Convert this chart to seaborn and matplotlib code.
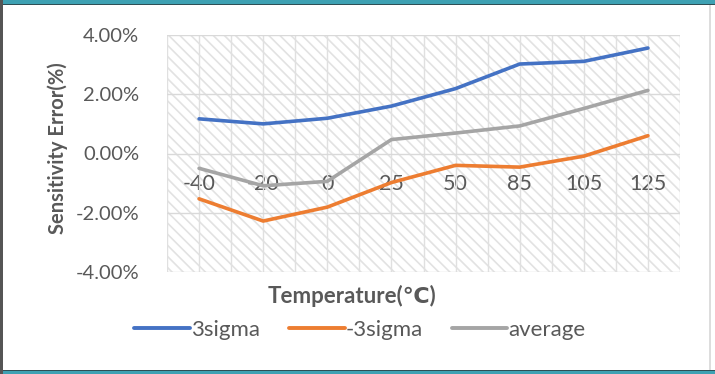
import matplotlib
matplotlib.use("Agg")
import matplotlib.pyplot as plt
from matplotlib.patches import Rectangle
from matplotlib.lines import Line2D
import seaborn as sns
import pandas as pd
import numpy as np

temps = ["-40", "-20", "0", "25", "50", "85", "105", "125"]
sigma_pos = [1.17, 1.00, 1.19, 1.60, 2.19, 3.02, 3.11, 3.56]
sigma_neg = [-1.53, -2.28, -1.81, -0.98, -0.40, -0.46, -0.09, 0.60]
average = [-0.50, -1.09, -0.94, 0.47, 0.69, 0.93, 1.52, 2.13]
series_names = ["3sigma", "-3sigma", "average"]
colors = ["#4472C4", "#ED7D31", "#A5A5A5"]
yticks = [-4, -2, 0, 2, 4]

df = pd.DataFrame({
    "Temperature": temps * 3,
    "value": sigma_pos + sigma_neg + average,
    "series": [s for s in series_names for _ in temps],
})

sns.set_theme(style="white")
plt.rcParams["font.family"] = ["Lato", "DejaVu Sans"]
plt.rcParams["hatch.linewidth"] = 1.2

fig = plt.figure(figsize=(7.15, 3.74), dpi=100)
fig.patch.set_facecolor("white")
ax = fig.add_axes([167/715, 1-272/374, (680-167)/715, (272-35)/374])
ax.set_facecolor("white")

# hatched plot area
hp = Rectangle((0, 0), 1, 1, transform=ax.transAxes, facecolor="white",
               edgecolor="#e2e2e2", hatch="\\\\\\", lw=0, zorder=0)
ax.add_patch(hp)

sns.lineplot(data=df, x="Temperature", y="value", hue="series",
             palette=dict(zip(series_names, colors)), sort=False,
             linewidth=2.6, ax=ax, legend=False, zorder=3)

ax.set_xlim(-0.5, len(temps) - 0.5)
ax.set_ylim(-4, 4)
ax.set_yticks(yticks)
ax.set_yticklabels([f"{v:.2f}%" for v in yticks])
for x in np.arange(-0.5, len(temps), 0.5):
    ax.axvline(x, color="#e0e0e0", lw=1.0, zorder=1)
for y in yticks:
    ax.axhline(y, color="#d9d9d9", lw=1.0, zorder=1)

for sp in ax.spines.values():
    sp.set_visible(False)
ax.spines["bottom"].set_position(("data", 0))
ax.tick_params(axis="x", length=0, pad=15, labelsize=15.5, labelcolor="#595959")
ax.tick_params(axis="y", length=0, pad=20, labelsize=14.5, labelcolor="#595959")
ax.set_xlabel("")
ax.set_ylabel("")

fig.text(58/715, 1-148/374, "Sensitivity Error(%)", rotation=90, ha="center", va="center",
         fontsize=14.5, fontweight="bold", color="#595959")
fig.text(352/715, 1-296/374, "Temperature(℃)", ha="center", va="center",
         fontsize=16, fontweight="bold", color="#595959",
         family=["Lato", "DejaVu Sans"])

handles = [Line2D([], [], color=c, lw=2.8) for c in colors]
fig.legend(handles, series_names, loc="center", bbox_to_anchor=(360/715, 1-330/374),
           ncol=3, frameon=False, fontsize=16, handlelength=2.5, handletextpad=0.05,
           columnspacing=1.3, labelcolor="#595959")

# outer frame
fig.patches.append(Rectangle((0, 1-4/374), 1, 4/374, transform=fig.transFigure,
                             facecolor="#3ea1b3", edgecolor="none"))
fig.patches.append(Rectangle((0, 1-5/374), 1, 1.2/374, transform=fig.transFigure,
                             facecolor="#2f4f55", edgecolor="none"))
fig.patches.append(Rectangle((0, 0), 1, 3/374, transform=fig.transFigure,
                             facecolor="#3ea1b3", edgecolor="none"))
fig.patches.append(Rectangle((0, 3/374), 1, 1.2/374, transform=fig.transFigure,
                             facecolor="#2f4f55", edgecolor="none"))
fig.patches.append(Rectangle((0, 0), 3/715, 1, transform=fig.transFigure,
                             facecolor="#555555", edgecolor="none"))
fig.patches.append(Rectangle((709/715, 4/374), 1.5/715, 1-9/374, transform=fig.transFigure,
                             facecolor="#dddddd", edgecolor="none"))

fig.savefig("out.png", dpi=100)
